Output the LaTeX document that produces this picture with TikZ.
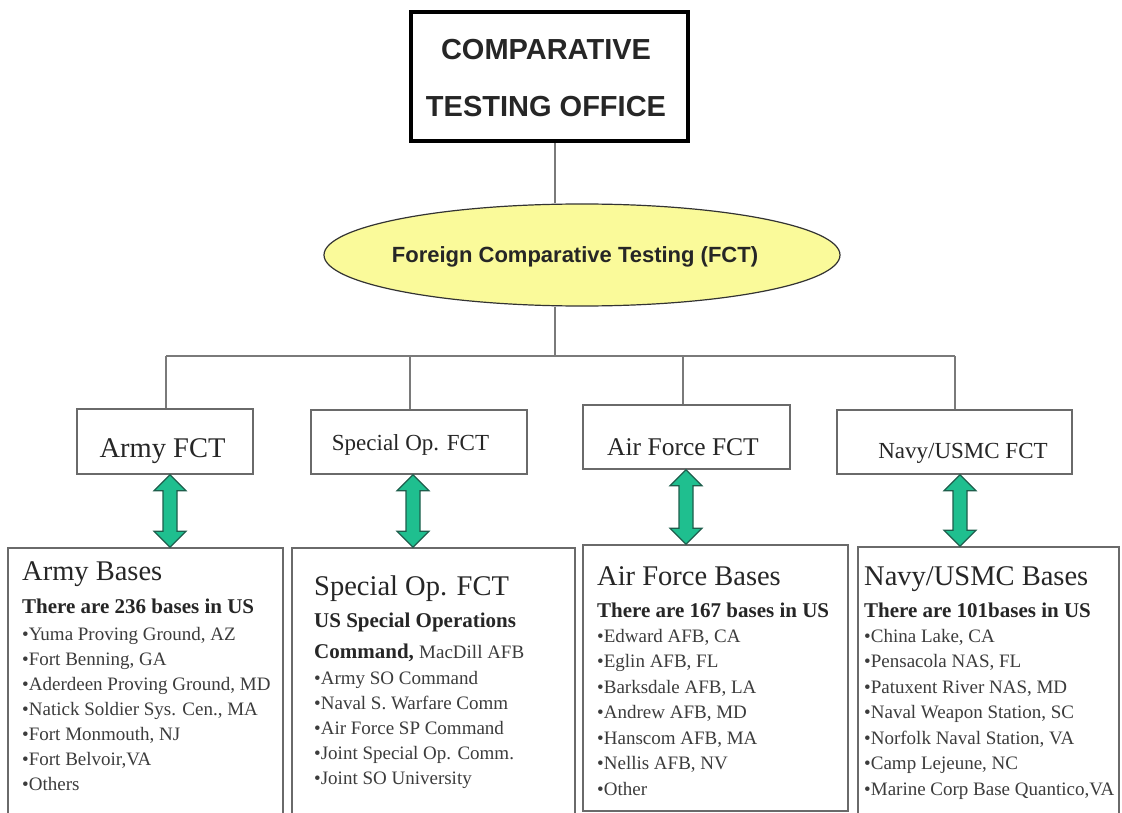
\documentclass[tikz,border=0pt]{standalone}
\usepackage{fontspec}
\setmainfont{Liberation Serif}
\newfontfamily\arialf{Liberation Sans}
\usetikzlibrary{shapes.geometric,calc}
\definecolor{boxgray}{HTML}{6A6A6A}
\definecolor{linegray}{HTML}{7A7A7A}
\definecolor{fctyellow}{HTML}{FAFA9A}
\definecolor{agreen}{HTML}{1FBF8F}
\definecolor{agreenline}{HTML}{1E5E4C}
\definecolor{txt}{HTML}{262626}
\definecolor{itemtxt}{HTML}{3C3C3C}
\newcommand{\greenDA}[2]{\draw[garrow] (#1) -- ($(#1)+(16,16)$) -- ($(#1)+(7,16)$) -- ($(#2)+(7,-16)$) -- ($(#2)+(16,-16)$) -- (#2) -- ($(#2)+(-16,-16)$) -- ($(#2)+(-7,-16)$) -- ($(#1)+(-7,16)$) -- ($(#1)+(-16,16)$) -- cycle;}
\begin{document}
\begin{tikzpicture}[x=1pt,y=-1pt,
  conn/.style={draw=linegray,line width=1.4pt},
  lvbox/.style={draw=boxgray,line width=1.4pt,rectangle,inner sep=0pt},
  basebox/.style={draw=boxgray,line width=1.6pt,rectangle,inner sep=0pt},
  lvtext/.style={inner sep=0pt,anchor=base,text=txt},
  ttl/.style={inner sep=0pt,anchor=base west,text=txt,font=\fontsize{28.5}{30}\selectfont},
  bld/.style={inner sep=0pt,anchor=base west,text=txt,font=\fontsize{21}{24}\selectfont\bfseries},
  itm/.style={inner sep=0pt,anchor=base west,text=itemtxt,font=\fontsize{19}{22}\selectfont},
  garrow/.style={fill=agreen,draw=agreenline,line width=1.2pt,line join=miter}
]
\useasboundingbox (0,0) rectangle (1122,813);
\clip (0,0) rectangle (1122,813);
\fill[white] (0,0) rectangle (1122,813);

% top box
\node[draw=black,line width=4pt,minimum width=277pt,minimum height=129pt,inner sep=0pt] (cto) at (549.5,76.5) {};
\node[align=center,inner sep=0pt,text=txt,font=\arialf\bfseries\fontsize{29}{57}\selectfont] (ctot) at (546,78) {COMPARATIVE\\TESTING OFFICE};

% ellipse
\node[ellipse,draw=black!80,fill=fctyellow,line width=1.2pt,minimum width=516pt,minimum height=102pt,inner sep=0pt] (fct) at (582,255) {};
\node[inner sep=0pt,text=txt,font=\arialf\bfseries\fontsize{22}{24}\selectfont] (fctt) at (575,257) {Foreign Comparative Testing (FCT)};

% level-2 boxes
\node[lvbox,minimum width=176pt,minimum height=65pt] (army) at (165,441.5) {};
\node[lvtext,font=\fontsize{28.5}{30}\selectfont] (armyt) at (162.5,457) {Army FCT};
\node[lvbox,minimum width=216pt,minimum height=64pt] (spec) at (419,442) {};
\node[lvtext,font=\fontsize{23}{26}\selectfont] (spect) at (410.5,450) {Special Op. FCT};
\node[lvbox,minimum width=207pt,minimum height=64pt] (af) at (686.5,437) {};
\node[lvtext,font=\fontsize{25.5}{28}\selectfont] (aft) at (683,455) {Air Force FCT};
\node[lvbox,minimum width=235pt,minimum height=64pt] (navy) at (954.5,442) {};
\node[lvtext,font=\fontsize{23}{26}\selectfont] (navyt) at (963,458) {Navy/USMC FCT};

% connectors
\coordinate (hub) at (555,356);
\coordinate (h1) at (166,356);
\coordinate (h2) at (410,356);
\coordinate (h3) at (683,356);
\coordinate (h4) at (955,356);
\draw[conn] (cto.south -| hub) -- (fct.north -| hub);
\draw[conn] (fct.south -| hub) -- (hub);
\draw[conn] (h1) -- (h4);
\draw[conn] (h1) -- (army.north -| h1);
\draw[conn] (h2) -- (spec.north -| h2);
\draw[conn] (h3) -- (af.north -| h3);
\draw[conn] (h4) -- (navy.north -| h4);

% base boxes
\node[basebox,minimum width=275pt,minimum height=270pt] (armyb) at (145.5,683) {};
\node[basebox,minimum width=283pt,minimum height=270pt] (specb) at (433.5,683) {};
\node[basebox,minimum width=265pt,minimum height=266pt] (afb) at (715.5,678) {};
\node[basebox,minimum width=261pt,minimum height=271pt] (navyb) at (988.5,682.5) {};

% green double arrows
\coordinate (a1) at (170,0);
\coordinate (a2) at (413,0);
\coordinate (a3) at (686,0);
\coordinate (a4) at (960,0);
\coordinate (t1) at (army.south -| a1);
\coordinate (b1) at (armyb.north -| a1);
\coordinate (t2) at (spec.south -| a2);
\coordinate (b2) at (specb.north -| a2);
\coordinate (t3) at (af.south -| a3);
\coordinate (b3) at (afb.north -| a3);
\coordinate (t4) at (navy.south -| a4);
\coordinate (b4) at (navyb.north -| a4);
\greenDA{t1}{b1}
\greenDA{t2}{b2}
\greenDA{t3}{b3}
\greenDA{t4}{b4}

% Army bases text
\node[ttl] (abt) at (22,580) {Army Bases};
\node[bld] (abb) at (22,613) {There are 236 bases in US};
\foreach \t [count=\i from 0] in {{•Yuma Proving Ground, AZ},{•Fort Benning, GA},{•Aderdeen Proving Ground, MD},{•Natick Soldier Sys. Cen., MA},{•Fort Monmouth, NJ},{•Fort Belvoir,VA},{•Others}}
  \node[itm] (ai\i) at (22,{640+25*\i}) {\t};

% Special op text
\node[ttl] (sbt) at (314,595) {Special Op. FCT};
\node[bld] (sbb) at (314,627) {US Special Operations};
\node[bld] (sbc) at (314,658) {Command, \mdseries\fontsize{19}{22}\selectfont\color{itemtxt}MacDill AFB};
\foreach \t [count=\i from 0] in {{•Army SO Command},{•Naval S. Warfare Comm},{•Air Force SP Command},{•Joint Special Op. Comm.},{•Joint SO University}}
  \node[itm] (si\i) at (314,{684+25*\i}) {\t};

% Air Force text
\node[ttl] (fbt) at (597,585) {Air Force Bases};
\node[bld] (fbb) at (597,617) {There are 167 bases in US};
\foreach \t [count=\i from 0] in {{•Edward AFB, CA},{•Eglin AFB, FL},{•Barksdale AFB, LA},{•Andrew AFB, MD},{•Hanscom AFB, MA},{•Nellis AFB, NV},{•Other}}
  \node[itm] (fi\i) at (597,{642+25.5*\i}) {\t};

% Navy text
\node[ttl] (nbt) at (864,585) {Navy/USMC Bases};
\node[bld] (nbb) at (864,617) {There are 101bases in US};
\foreach \t [count=\i from 0] in {{•China Lake, CA},{•Pensacola NAS, FL},{•Patuxent River NAS, MD},{•Naval Weapon Station, SC},{•Norfolk Naval Station, VA},{•Camp Lejeune, NC},{•Marine Corp Base Quantico,VA}}
  \node[itm] (ni\i) at (864,{642+25.5*\i}) {\t};
\end{tikzpicture}
\end{document}
